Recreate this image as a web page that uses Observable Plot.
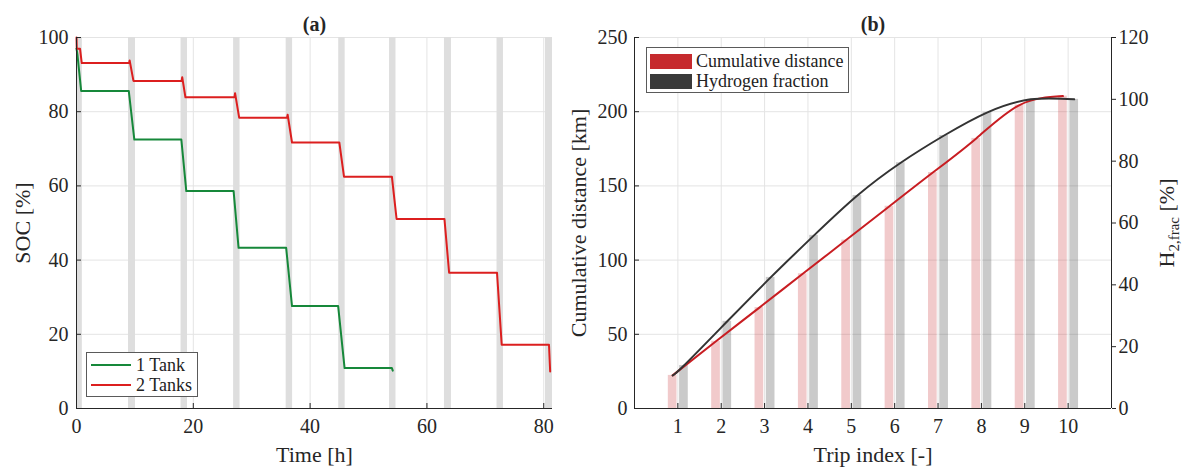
<!DOCTYPE html>
<html>
<head>
<meta charset="utf-8">
<script src="https://cdn.jsdelivr.net/npm/d3@7"></script>
<script src="https://cdn.jsdelivr.net/npm/@observablehq/plot@0.6"></script>
<style>
  body { margin: 0; background: #fff; }
  #wrap { position: relative; width: 1189px; height: 469px; overflow: hidden; background: #fff;
          font-family: "Liberation Serif", "Times New Roman", serif; color: #222; }
  .panel { position: absolute; top: 0; }
  .legend { position: absolute; background: #fff; border: 1px solid #5a5a5a; box-sizing: border-box; font-size: 18px; }
  .legend .row { position: absolute; left: 0; height: 20px; display: flex; align-items: center; white-space: nowrap; }
  .legend .ln { display: inline-block; width: 40px; height: 2px; margin-left: 4px; margin-right: 5px; }
  .legend .sw { display: inline-block; width: 42px; height: 15px; margin-left: 3px; margin-right: 4px; box-sizing: border-box; }
</style>
</head>
<body>
<div id="wrap"></div>
<script>
// ---------------- Panel (a) data: SOC vs time ----------------
const tank1Time = [0, 0.15, 0.8, 8.95, 9.9, 17.95, 18.8, 26.9, 27.75, 35.9, 36.9, 44.8, 45.9, 54.0, 54.15];
const tank1Soc  = [97, 95.5, 85.6, 85.6, 72.5, 72.5, 58.6, 58.6, 43.3, 43.3, 27.6, 27.6, 10.9, 10.9, 10.2];

const tank2Time = [0, 0.05, 0.6, 0.9, 9.0, 9.1, 9.75, 18.0, 18.1, 18.65, 27.05, 27.15, 27.85, 36.05, 36.15, 36.9,
                   45.0, 45.8, 54.0, 54.8, 63.0, 63.8, 72.0, 72.8, 80.9, 81.1];
const tank2Soc  = [100, 97, 97, 93.1, 93.1, 93.8, 88.3, 88.3, 89.3, 83.9, 83.9, 85.0, 78.4, 78.4, 79.2, 71.7,
                   71.7, 62.5, 62.5, 51.1, 51.1, 36.6, 36.6, 17.2, 17.2, 10.0];

const chargeStart = [0, 8.9, 17.9, 26.9, 35.9, 44.9, 53.6, 63.0, 72.0, 80.3];
const chargeEnd   = [1.0, 10.1, 19.0, 28.0, 37.0, 46.0, 54.7, 64.2, 73.1, 81.5];

const socTicks  = [0, 20, 40, 60, 80, 100];
const timeTicks = [0, 20, 40, 60, 80];
const seriesA = ["1 Tank", "2 Tanks"];

// ---------------- Panel (b) data: per trip ----------------
const trips        = [1, 2, 3, 4, 5, 6, 7, 8, 9, 10];
const cumDistance  = [22.3, 45.3, 68.0, 90.8, 113.5, 136.3, 159.0, 182.0, 204.5, 210.5];  // km
const h2Fraction   = [13.9, 28.2, 42.4, 56.0, 68.9, 79.5, 88.3, 95.8, 100.0, 100.0];     // %
const distTicks    = [0, 50, 100, 150, 200, 250];
const fracTicks    = [0, 20, 40, 60, 80, 100, 120];
const seriesB = ["Cumulative distance", "Hydrogen fraction"];

// ---------------- styling ----------------
const fontFamily = '"Liberation Serif", "Times New Roman", serif';
const axisColor = "#262626";
const gridColor = "#e4e4e4";
const greenC = "#16883a";
const redC = "#dc1f1f";
const redLineB = "#c81d22";
const darkC = "#333333";
const legRed = "#c62a2e";
const legDark = "#3a3a3a";

const wrap = document.getElementById("wrap");
const labelStyle = {textAnchor: "middle", lineAnchor: "middle", fontSize: 22, fontWeight: "normal", fill: axisColor};

// ---------- Panel (a) ----------
const s1 = tank1Time.map((t, i) => ({t, soc: tank1Soc[i]}));
const s2 = tank2Time.map((t, i) => ({t, soc: tank2Soc[i]}));
const bands = chargeStart.map((s, i) => ({s, e: chargeEnd[i]}));

const plotA = Plot.plot({
  width: 560, height: 469,
  marginLeft: 76, marginRight: 8, marginTop: 37, marginBottom: 61,
  style: {fontFamily, fontSize: "20px", color: axisColor, background: "transparent", overflow: "visible"},
  x: {domain: [0, 81.5]},
  y: {domain: [0, 100]},
  marks: [
    Plot.gridX(timeTicks.filter(d => d > 0), {stroke: gridColor, strokeOpacity: 1}),
    Plot.gridY(socTicks.filter(d => d > 0), {stroke: gridColor, strokeOpacity: 1}),
    Plot.rect(bands, {x1: "s", x2: "e", fill: "#dedede"}),
    Plot.line(s1, {x: "t", y: "soc", stroke: greenC, strokeWidth: 2}),
    Plot.line(s2, {x: "t", y: "soc", stroke: redC, strokeWidth: 2}),
    Plot.ruleX([0], {stroke: axisColor}),
    Plot.ruleY([0], {stroke: axisColor}),
    Plot.axisX(timeTicks, {tickSize: 0, tickPadding: 10, label: null}),
    Plot.axisX(timeTicks, {tickSize: -5, tickFormat: () => "", label: null}),
    Plot.axisY(socTicks, {tickSize: 0, tickPadding: 8, label: null}),
    Plot.axisY(socTicks, {tickSize: -5, tickFormat: () => "", label: null}),
    Plot.text(["SOC [%]"], {frameAnchor: "left", dx: -54, rotate: -90, ...labelStyle}),
    Plot.text(["Time [h]"], {frameAnchor: "bottom", dy: 46, ...labelStyle}),
    Plot.text(["(a)"], {frameAnchor: "top", dy: -13, ...labelStyle, fontSize: 20, fontWeight: "bold"})
  ]
});
plotA.classList.add("panel");
plotA.style.left = "0px";
wrap.appendChild(plotA);

// ---------- Panel (b) ----------
const kmPerPct = 250 / 120;
const distBars = trips.map((t, i) => ({t, v: cumDistance[i]}));
const h2Bars = trips.map((t, i) => ({t, v: h2Fraction[i] * kmPerPct}));
const distLine = trips.map((t, i) => ({x: t - 0.12, y: cumDistance[i]}));
const h2Line = [distLine[0], ...trips.map((t, i) => ({x: t + 0.14, y: h2Fraction[i] * kmPerPct}))];

const plotB = Plot.plot({
  width: 629, height: 469,
  marginLeft: 74, marginRight: 78, marginTop: 37, marginBottom: 61,
  style: {fontFamily, fontSize: "20px", color: axisColor, background: "transparent", overflow: "visible"},
  x: {domain: [0, 11]},
  y: {domain: [0, 250]},
  marks: [
    Plot.gridX(trips, {stroke: gridColor, strokeOpacity: 1}),
    Plot.gridY(distTicks.filter(d => d > 0), {stroke: gridColor, strokeOpacity: 1}),
    Plot.rect(distBars, {x1: d => d.t - 0.22, x2: d => d.t - 0.02, y1: 0, y2: "v", fill: legRed, fillOpacity: 0.25}),
    Plot.rect(h2Bars, {x1: d => d.t + 0.04, x2: d => d.t + 0.24, y1: 0, y2: "v", fill: legDark, fillOpacity: 0.27}),
    Plot.line(distLine, {x: "x", y: "y", curve: "natural", stroke: redLineB, strokeWidth: 2}),
    Plot.line(h2Line, {x: "x", y: "y", curve: "natural", stroke: darkC, strokeWidth: 2}),
    Plot.ruleX([0], {stroke: axisColor}),
    Plot.ruleX([11], {stroke: axisColor}),
    Plot.ruleY([0], {stroke: axisColor}),
    Plot.axisX(trips, {tickSize: 0, tickPadding: 10, label: null}),
    Plot.axisX(trips, {tickSize: -5, tickFormat: () => "", label: null}),
    Plot.axisY(distTicks, {tickSize: 0, tickPadding: 7, label: null}),
    Plot.axisY(distTicks, {tickSize: -5, tickFormat: () => "", label: null}),
    Plot.axisY(fracTicks.map(p => p * kmPerPct), {anchor: "right", tickSize: 4, tickPadding: 3, label: null,
      tickFormat: d => String(Math.round(d / kmPerPct))}),
    Plot.text(["Cumulative distance [km]"], {frameAnchor: "left", dx: -56, rotate: -90, ...labelStyle}),
    Plot.text(["H2,frac [%]"], {frameAnchor: "right", dx: 55, rotate: -90, ...labelStyle}),
    Plot.text(["Trip index [-]"], {frameAnchor: "bottom", dy: 46, ...labelStyle}),
    Plot.text(["(b)"], {frameAnchor: "top", dy: -13, ...labelStyle, fontSize: 20, fontWeight: "bold"})
  ]
});
plotB.classList.add("panel");
plotB.style.left = "560px";
wrap.appendChild(plotB);

// subscript for H2,frac
d3.select(plotB).selectAll("text").filter(function() { return this.textContent === "H2,frac [%]"; })
  .each(function() {
    const t = d3.select(this);
    t.text(null);
    t.append("tspan").text("H");
    t.append("tspan").attr("dy", 5).attr("font-size", 15).text("2,frac");
    t.append("tspan").attr("dy", -5).attr("font-size", 22).text(" [%]");
  });

// ---------- Legends (HTML) ----------
function legendA() {
  const box = document.createElement("div");
  box.className = "legend";
  Object.assign(box.style, {left: "86px", top: "352px", width: "112px", height: "45px"});
  const cols = [greenC, redC];
  seriesA.forEach((name, i) => {
    const row = document.createElement("div");
    row.className = "row";
    row.style.top = (2 + i * 20) + "px";
    const ln = document.createElement("span");
    ln.className = "ln"; ln.style.background = cols[i];
    const tx = document.createElement("span"); tx.textContent = name;
    row.appendChild(ln); row.appendChild(tx);
    box.appendChild(row);
  });
  wrap.appendChild(box);
}
function legendB() {
  const box = document.createElement("div");
  box.className = "legend";
  Object.assign(box.style, {left: "646px", top: "47px", width: "203px", height: "46px"});
  const cols = [legRed, legDark];
  seriesB.forEach((name, i) => {
    const row = document.createElement("div");
    row.className = "row";
    row.style.top = (3 + i * 20.5) + "px";
    const sw = document.createElement("span");
    sw.className = "sw"; sw.style.background = cols[i];
    const tx = document.createElement("span"); tx.textContent = name;
    row.appendChild(sw); row.appendChild(tx);
    box.appendChild(row);
  });
  wrap.appendChild(box);
}
legendA();
legendB();
</script>
</body>
</html>
